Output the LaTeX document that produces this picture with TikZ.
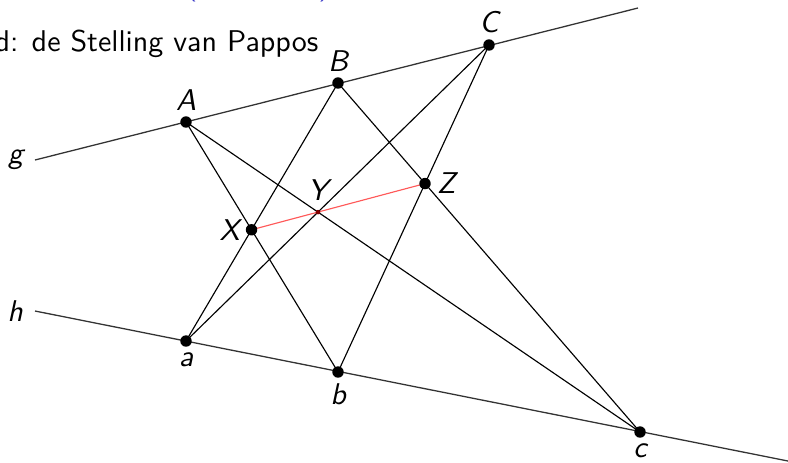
\documentclass[tikz,border=0pt]{standalone}
\usepackage{fontspec}
\definecolor{titleblue}{RGB}{60,60,200}
\tikzset{
  lbl/.style={font=\fontsize{10.5}{12}\sffamily\itshape, inner sep=1pt},
  lijn/.style={color=black!80, line width=0.45pt},
}

\begin{document}
\begin{tikzpicture}[x=0.35pt, y=-0.35pt, line width=0.4pt]
	\useasboundingbox (0,0) rectangle (788,462);

	% titel (afgesneden)
	\node[anchor=base west, inner sep=0pt, color=titleblue, font=\fontsize{10.5}{12}\sffamily] (kop) at (185,-6) {(\hspace{42.5pt})};
	\node[anchor=base west, inner sep=0pt, font=\fontsize{10.5}{12}\sffamily] (titel) at (-6,51) {d: de Stelling van Pappos};

	% punten op g en h
	\coordinate (A) at (186,122);	\coordinate (B) at (338,83);	\coordinate (C) at (489,45);
	\coordinate (a) at (186,341);	\coordinate (b) at (338,372);	\coordinate (c) at (640,432);
	\coordinate (g0) at (35,160);	\coordinate (g1) at (638,8);
	\coordinate (h0) at (35,311);	\coordinate (h1) at (788,461);

	\draw[lijn] (g0) -- (g1);
	\draw[lijn] (h0) -- (h1);
	\node[lbl, left=3pt] (lg) at (g0) {g};
	\node[lbl, left=3pt] (lh) at (h0) {h};

	\draw (A) -- (b);	\draw (A) -- (c);
	\draw (B) -- (a);	\draw (B) -- (c);
	\draw (C) -- (a);	\draw (C) -- (b);

	\coordinate (X) at (intersection of A--b and B--a);
	\coordinate (Y) at (intersection of A--c and C--a);
	\coordinate (Z) at (intersection of B--c and C--b);
	\draw[color=red!65] (X) -- (Z);

	\foreach \p in {A,B,C,a,b,c,X,Z}
		\fill (\p) circle (2pt);
	\fill[color=red!50!black] (Y) circle (0.8pt);

	\node[lbl, above=3pt] (lA) at (A) {A};
	\node[lbl, above=3pt] (lB) at (B) {B};
	\node[lbl, above=3pt] (lC) at (C) {C};
	\node[lbl, below=3pt] (la) at (a) {a};
	\node[lbl, below=3pt] (lb) at (b) {b};
	\node[lbl, below=3pt] (lc) at (c) {c};
	\node[lbl, left=3pt] (lX) at (X) {X};
	\node[lbl, above=3pt] (lY) at (Y) {Y};
	\node[lbl, right=3pt] (lZ) at (Z) {Z};
\end{tikzpicture}
\end{document}
